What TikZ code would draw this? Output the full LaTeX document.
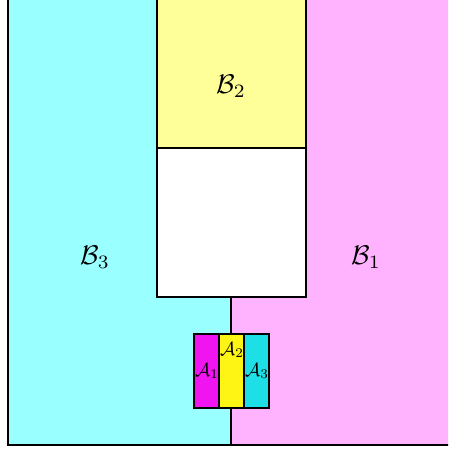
\documentclass[tikz,border=0pt]{standalone}
\usepackage{amsmath}
\begin{document}
\begin{tikzpicture}[x=1pt,y=-1pt,
  region/.style={draw=black,line width=2pt},
  bigl/.style={scale=2.7},
  smalll/.style={scale=1.9,inner sep=0pt}]
\definecolor{lcyan}{RGB}{153,255,255}
\definecolor{lpink}{RGB}{255,179,255}
\definecolor{lyellow}{RGB}{255,255,153}
\definecolor{dmag}{RGB}{240,20,240}
\definecolor{dyel}{RGB}{255,245,20}
\definecolor{dcyan}{RGB}{30,222,230}
\useasboundingbox (0,0) rectangle (448,450);
\begin{scope}
\clip (0,0) rectangle (448,450);
% B3 cyan region
\fill[lcyan] (8,-5) rectangle (231,445);
% B1 pink region
\fill[lpink] (231,-5) rectangle (455,445);
\draw[region] (8,-5) -- (8,445) -- (455,445);
\draw[region] (231,297) -- (231,445);
% B2 yellow box and white box
\draw[region,fill=lyellow] (157,-5) rectangle (306,148);
\draw[region,fill=white] (157,148) rectangle (306,297);
% small boxes
\draw[region,fill=dmag] (194,334) rectangle (219,408);
\draw[region,fill=dyel] (219,334) rectangle (244,408);
\draw[region,fill=dcyan] (244,334) rectangle (269,408);
\end{scope}
\node[bigl] (b2) at (231,86) {$\mathcal{B}_2$};
\node[bigl] (b3) at (95,257) {$\mathcal{B}_3$};
\node[bigl] (b1) at (366,257) {$\mathcal{B}_1$};
\node[smalll] (a1) at (207,371) {$\mathcal{A}_1$};
\node[smalll] (a2) at (232,350) {$\mathcal{A}_2$};
\node[smalll] (a3) at (257,371) {$\mathcal{A}_3$};
\end{tikzpicture}
\end{document}
